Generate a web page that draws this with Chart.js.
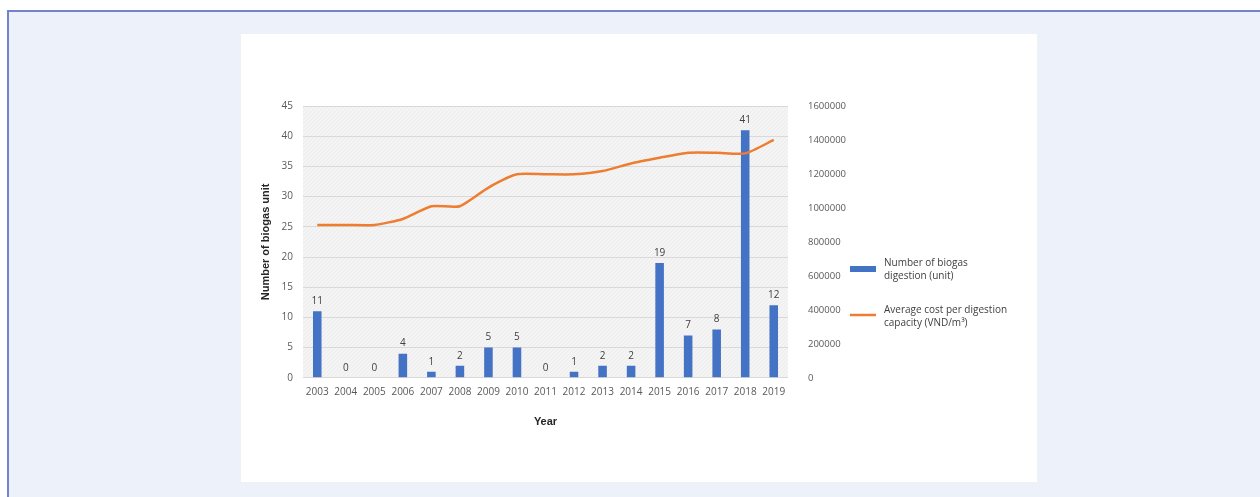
<!DOCTYPE html>
<html lang="en">
<head>
    <meta charset="UTF-8">
    <title>Biogas digestion units and average cost</title>
    <script src="https://cdn.jsdelivr.net/npm/chart.js"></script>
    <style>
        html, body { margin: 0; padding: 0; }
        body { width: 1260px; height: 497px; background: #fff; position: relative; overflow: hidden; font-family: "Open Sans", Arial, sans-serif; }
        .frame { position: absolute; left: 7px; top: 10px; right: 0; bottom: 0; background: #edf1f9; border-left: 2px solid #7482c9; border-top: 2px solid #7482c9; }
        .card { position: absolute; left: 241px; top: 34px; width: 796px; height: 448px; background: #fff; }
        canvas { display: block; }
    </style>
</head>
<body>
    <div class="frame"></div>
    <div class="card">
        <canvas id="biogasChart" width="796" height="448"></canvas>
    </div>

    <script>
        const years = ['2003', '2004', '2005', '2006', '2007', '2008', '2009', '2010', '2011',
                       '2012', '2013', '2014', '2015', '2016', '2017', '2018', '2019'];
        const biogasUnits = [11, 0, 0, 4, 1, 2, 5, 5, 0, 1, 2, 2, 19, 7, 8, 41, 12];
        const avgCost = [900000, 900000, 900000, 935000, 1010000, 1010000, 1120000, 1198000, 1198000,
                         1198000, 1217000, 1262000, 1295000, 1325000, 1325000, 1321000, 1400000];
        const legendLabels = [
            ['Number of biogas', 'digestion (unit)'],
            ['Average cost per digestion', 'capacity (VND/m\u00b3)']
        ];

        const BLUE = '#4472c4';
        const ORANGE = '#ed7d31';
        const TICK = '#595959';

        // hatched grey plot background
        function makePattern(ctx) {
            const c = document.createElement('canvas');
            c.width = 4; c.height = 4;
            const p = c.getContext('2d');
            p.fillStyle = '#f4f4f4';
            p.fillRect(0, 0, 4, 4);
            p.fillStyle = '#ececec';
            p.fillRect(0, 3, 1, 1);
            p.fillRect(1, 2, 1, 1);
            p.fillRect(2, 1, 1, 1);
            p.fillRect(3, 0, 1, 1);
            return ctx.createPattern(c, 'repeat');
        }

        const plotBackground = {
            id: 'plotBackground',
            beforeDraw(chart) {
                const { ctx, chartArea: a } = chart;
                ctx.save();
                ctx.fillStyle = makePattern(ctx);
                ctx.fillRect(a.left, a.top, a.right - a.left, a.bottom - a.top);
                ctx.restore();
            }
        };

        const barValues = {
            id: 'barValues',
            afterDatasetsDraw(chart) {
                const { ctx } = chart;
                const meta = chart.getDatasetMeta(1);
                ctx.save();
                ctx.font = '10px "Open Sans", Arial, sans-serif';
                ctx.fillStyle = '#404040';
                ctx.textAlign = 'center';
                ctx.textBaseline = 'bottom';
                meta.data.forEach((bar, i) => {
                    ctx.fillText(String(biogasUnits[i]), bar.x, bar.y - 5);
                });
                ctx.restore();
            }
        };

        const sideLegend = {
            id: 'sideLegend',
            afterDraw(chart) {
                const { ctx } = chart;
                const x = 609, tx = 643;
                const rows = [229, 276];
                ctx.save();
                ctx.font = '10px "Open Sans", Arial, sans-serif';
                ctx.textBaseline = 'middle';
                ctx.textAlign = 'left';
                ctx.fillStyle = BLUE;
                ctx.fillRect(x, rows[0] + 3, 26, 6);
                ctx.strokeStyle = ORANGE;
                ctx.lineWidth = 2.5;
                ctx.beginPath();
                ctx.moveTo(x, rows[1] + 5);
                ctx.lineTo(x + 26, rows[1] + 5);
                ctx.stroke();
                ctx.fillStyle = '#404040';
                legendLabels.forEach((lines, i) => {
                    lines.forEach((t, j) => ctx.fillText(t, tx, rows[i] + j * 13));
                });
                ctx.restore();
            }
        };

        const ctx = document.getElementById('biogasChart').getContext('2d');
        new Chart(ctx, {
            data: {
                labels: years,
                datasets: [
                    {
                        type: 'line',
                        label: 'Average cost per digestion capacity (VND/m\u00b3)',
                        data: avgCost,
                        yAxisID: 'y1',
                        borderColor: ORANGE,
                        borderWidth: 2.5,
                        pointRadius: 0,
                        tension: 0.2,
                        order: 0
                    },
                    {
                        type: 'bar',
                        label: 'Number of biogas digestion (unit)',
                        data: biogasUnits,
                        yAxisID: 'y',
                        backgroundColor: BLUE,
                        barPercentage: 0.3,
                        categoryPercentage: 1.0,
                        order: 1
                    }
                ]
            },
            options: {
                responsive: false,
                animation: false,
                layout: { padding: { top: 72, right: 187, bottom: 49, left: 14 } },
                plugins: {
                    legend: { display: false },
                    tooltip: { enabled: false }
                },
                scales: {
                    x: {
                        grid: { display: false },
                        border: { display: false },
                        ticks: { color: TICK, font: { size: 10, family: '"Open Sans", Arial, sans-serif' }, maxRotation: 0, padding: 0 },
                        title: { display: true, text: 'Year', color: '#262626', font: { size: 11, weight: 'bold', family: 'Arial, sans-serif' }, padding: { top: 18 } }
                    },
                    y: {
                        position: 'left',
                        min: 0, max: 45,
                        ticks: { stepSize: 5, color: TICK, font: { size: 10, family: '"Open Sans", Arial, sans-serif' }, padding: 10 },
                        grid: { color: '#d9d9d9', lineWidth: 1, drawTicks: false },
                        border: { display: false },
                        title: { display: true, text: 'Number of biogas unit', color: '#262626', font: { size: 11, weight: 'bold', family: 'Arial, sans-serif' }, padding: { bottom: 6 } },
                        afterFit(scale) { scale.width = 48; }
                    },
                    y1: {
                        position: 'right',
                        min: 0, max: 1600000,
                        ticks: { stepSize: 200000, color: TICK, font: { size: 9.5, family: '"Open Sans", Arial, sans-serif' }, padding: 12,
                                 callback: v => String(v) },
                        grid: { display: false },
                        border: { display: false },
                        afterFit(scale) { scale.width = 62; }
                    }
                }
            },
            plugins: [plotBackground, barValues, sideLegend]
        });
    </script>
</body>
</html>
